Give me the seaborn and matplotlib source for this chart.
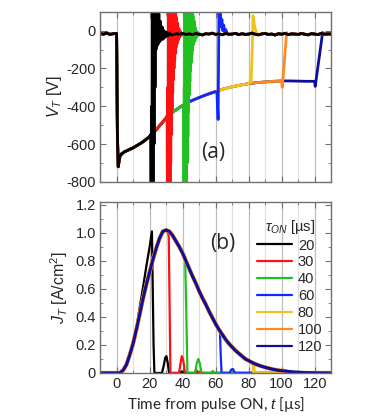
import numpy as np
import pandas as pd
import matplotlib
matplotlib.use("Agg")
import matplotlib.pyplot as plt
from matplotlib.ticker import MultipleLocator, FuncFormatter
from matplotlib.lines import Line2D
import seaborn as sns

# ---------------- data ----------------
taus = [20, 30, 40, 60, 80, 100, 120]
colors = ["#000000", "#ff1010", "#20c020", "#1028ff", "#f2c21c", "#ff8a1a", "#0e0e9a"]

# (a) terminal voltage, common envelope during the pulse
t_venv = [0.5, 1, 1.5, 2, 3, 5, 7.5, 10, 12.5, 15, 17.5, 20, 22.5, 25, 27.5, 30, 32.5, 35, 37.5, 40,
          45, 50, 55, 60, 65, 70, 75, 80, 85, 90, 95, 100, 105, 110, 115, 120, 125]
v_env = [-560, -720, -690, -665, -652, -640, -630, -620, -607, -594, -578, -560, -540, -514, -488, -462, -442, -425, -410, -396,
         -372, -354, -337, -322, -308, -297, -288, -280, -275, -271, -268, -266, -266, -267, -268, -268, -268]

# baseline outside the pulse (t = -10 ... 130, every 2 us)
t_vbase = list(range(-10, 131, 2))
v_base = [-14, -19, -12, -20, -16, -15, -21, -13, -18, -22,
          -14, -19, -17, -23, -12, -18, -20, -15, -21, -17,
          -13, -19, -22, -16, -18, -14, -20, -17, -21, -15,
          -19, -23, -16, -18, -13, -20, -17, -22, -15, -19,
          -18, -14, -21, -16, -20, -18, -13, -19, -22, -17,
          -15, -20, -18, -23, -16, -19, -14, -21, -17, -18,
          -20, -15, -19, -22, -16, -18, -21, -14, -19, -17, -18]

# switch-off transients of the voltage
v_off_t = {
    20: [20.6, 20.9, 21.2, 21.5, 21.8, 22.1, 22.4, 22.7, 23.0, 23.3, 23.6, 23.9, 24.2, 24.5, 24.8, 25.2,
         25.6, 26.0, 26.5, 27.0, 27.6, 28.2, 28.8, 29.5, 30.2, 31.0, 32.0, 33.0],
    30: [30.6, 30.8, 31.0, 31.2, 31.4, 31.6, 31.8, 32.0, 32.2, 32.4, 32.6, 32.8, 33.0, 33.2, 33.4, 33.6,
         33.8, 34.0, 34.2, 34.4, 34.6, 34.8, 35.0, 35.2, 35.4, 35.6, 35.8, 36.0, 36.3, 36.6, 37.0, 37.4,
         37.8, 38.2, 38.8, 39.4, 40.0],
    40: [40.6, 40.8, 41.0, 41.2, 41.4, 41.6, 41.8, 42.0, 42.2, 42.4, 42.6, 42.8, 43.0, 43.2, 43.4, 43.6,
         43.8, 44.0, 44.2, 44.4, 44.6, 44.8, 45.0, 45.2, 45.4, 45.6, 45.8, 46.0, 46.3, 46.6, 47.0, 47.4,
         47.8, 48.2, 48.8, 49.4, 50.0],
    60: [60.8, 61.5, 62.0, 62.4, 62.8, 63.3, 63.8, 64.3, 64.9, 65.5, 66.2, 67.0],
    80: [81.0, 81.5, 82.2, 82.6, 83.0, 83.5, 84.0, 84.7, 85.5],
    100: [100.3, 100.7, 103.0, 103.6],
    120: [120.3, 120.8, 124.8, 125.5],
}
v_off_v = {
    20: [-550, -900, -400, -900, 200, -900, 200, -600, 200, -300, 200, -100, 160, -80, 120, -70,
         90, -60, 50, -50, 20, -45, 0, -35, -8, -28, -12, -22],
    30: [-450, -900, -300, -900, 150, -900, 200, -850, 200, -800, 200, -700, 200, -550, 200, -420,
         200, -330, 200, -260, 180, -200, 150, -160, 130, -120, 100, -90, 70, -70, 40, -50,
         10, -35, -5, -25, -15],
    40: [-400, -900, -300, -900, 150, -900, 200, -850, 200, -800, 200, -700, 200, -560, 200, -430,
         200, -340, 200, -270, 190, -210, 160, -170, 140, -130, 110, -100, 80, -75, 50, -55,
         15, -38, -5, -25, -15],
    60: [-330, -470, 110, 40, 90, 20, 60, 0, 30, -10, 5, -15],
    80: [-268, -270, -100, 80, 60, 30, 10, -10, -15],
    100: [-300, -265, -10, -18],
    120: [-295, -265, -10, -18],
}

# (b) current density, common envelope
t_jenv = [0, 2, 4, 6, 8, 10, 12, 14, 16, 18, 20, 22, 24, 26, 28, 30, 32, 34, 36, 38,
          40, 42, 44, 46, 48, 50, 52, 54, 56, 58, 60, 62, 64, 66, 68, 70, 72, 74, 76, 78,
          80, 82, 84, 86, 88, 90, 92, 94, 96, 98, 100, 104, 108, 112, 116, 120, 124, 130]
j_env = [0, 0, 0.02, 0.06, 0.13, 0.21, 0.31, 0.42, 0.53, 0.63,
         0.72, 0.81, 0.89, 0.96, 1.01, 1.02, 1.01, 0.98, 0.94, 0.90,
         0.855, 0.80, 0.745, 0.69, 0.64, 0.585, 0.535, 0.49, 0.44, 0.395,
         0.35, 0.31, 0.275, 0.24, 0.21, 0.185, 0.16, 0.14, 0.12, 0.10,
         0.088, 0.075, 0.064, 0.055, 0.047, 0.04, 0.034, 0.028, 0.023, 0.019,
         0.016, 0.011, 0.007, 0.004, 0.002, 0.001, 0, 0]

# the 20 us pulse rises a bit faster than the others
t_j20 = [0, 2, 4, 6, 8, 10, 12, 14, 16, 18, 20]
j_20 = [0, 0, 0.02, 0.07, 0.14, 0.22, 0.32, 0.47, 0.61, 0.76, 0.9]

j_cut = {20: 20, 30: 30, 40: 40, 60: 62, 80: 82, 100: 102, 120: 124}
j_off_t = {
    20: [21.4, 21.9, 22.4, 22.9, 27.5, 28.5, 29.5, 30.2, 31.0, 31.8, 38.5, 39.5, 40.5],
    30: [31.2, 31.6, 32.1, 32.6, 37.8, 38.6, 39.5, 40.4, 41.3, 42.0, 47.2, 48.2, 49.2, 50.0],
    40: [41.5, 42.2, 42.9, 47.6, 48.6, 49.5, 50.4, 51.3, 52.0, 57.5, 58.3, 59.0],
    60: [62.6, 63.1, 63.6, 68.5, 69.5, 70.5, 71.5, 72.0],
    80: [82.8, 83.3],
    100: [102.5, 103.0],
    120: [124.5],
}
j_off_v = {
    20: [1.01, 0.6, 0.2, 0, 0, 0.05, 0.11, 0.12, 0.07, 0, 0, 0.012, 0],
    30: [1.0, 0.97, 0.5, 0, 0, 0.06, 0.12, 0.09, 0.01, 0, 0, 0.022, 0.01, 0],
    40: [0.83, 0.45, 0, 0, 0.07, 0.1, 0.07, 0.01, 0, 0, 0.015, 0],
    60: [0.3, 0.12, 0, 0, 0.025, 0.028, 0.005, 0],
    80: [0.07, 0],
    100: [0.013, 0],
    120: [0],
}

# line widths in panel (b): the wider yellow/orange traces peek out from under the navy one
j_widths = {20: 1.6, 30: 1.6, 40: 1.6, 60: 1.6, 80: 2.6, 100: 3.0, 120: 2.2}

# ---------------- assemble long tables ----------------
rows_v = []
rows_j = []
for tau in taus:
    t_off, v_off = v_off_t[tau], v_off_v[tau]
    tt = [t for t in t_vbase if t < 0] + [0]
    vv = [v for t, v in zip(t_vbase, v_base) if t < 0] + [-15]
    tt += [t for t in t_venv if t < t_off[0]] + t_off + [t for t in t_vbase if t > t_off[-1]]
    vv += [v for t, v in zip(t_venv, v_env) if t < t_off[0]] + v_off + \
          [v for t, v in zip(t_vbase, v_base) if t > t_off[-1]]
    rows_v += [(tau, t, v) for t, v in zip(tt, vv)]

    if tau == 20:
        tj, jj = list(t_j20), list(j_20)
    else:
        tj = [t for t in t_jenv if t <= j_cut[tau]]
        jj = [j for t, j in zip(t_jenv, j_env) if t <= j_cut[tau]]
    tj = [-10] + tj + j_off_t[tau] + [130]
    jj = [0] + jj + j_off_v[tau] + [0]
    rows_j += [(tau, t, j) for t, j in zip(tj, jj)]

df_v = pd.DataFrame(rows_v, columns=["tau", "t", "V"])
df_j = pd.DataFrame(rows_j, columns=["tau", "t", "J"])

# ---------------- styling ----------------
sns.set_style("ticks")
plt.rcParams["font.family"] = ["Liberation Sans", "DejaVu Sans"]
plt.rcParams["mathtext.fontset"] = "custom"
plt.rcParams["mathtext.rm"] = "Liberation Sans"
plt.rcParams["mathtext.it"] = "Liberation Sans:italic"
plt.rcParams["axes.unicode_minus"] = False

pal = dict(zip(taus, colors))
fig = plt.figure(figsize=(3.82, 4.2), dpi=100)
ax1 = fig.add_axes([0.262, 0.567, 0.605, 0.405])
ax2 = fig.add_axes([0.262, 0.112, 0.605, 0.407])

frame = "#707070"
for ax in (ax1, ax2):
    ax.set_xlim(-10, 130)
    ax.xaxis.set_major_locator(MultipleLocator(20))
    ax.xaxis.set_minor_locator(MultipleLocator(10))
    ax.grid(axis="x", which="major", color="#bdbdbd", lw=0.9, zorder=0)
    ax.grid(axis="x", which="minor", color="#e0e0e0", lw=0.9, zorder=0)
    ax.set_axisbelow(True)
    ax.tick_params(which="both", direction="in", top=True, right=True, color=frame,
                   labelsize=10.5, pad=3)
    ax.tick_params(which="major", length=4)
    ax.tick_params(which="minor", length=2)
    for s in ax.spines.values():
        s.set_color(frame)
        s.set_linewidth(1.0)

# (a)
sns.lineplot(data=df_v, x="t", y="V", hue="tau", hue_order=taus[::-1], palette=pal,
             units="tau", estimator=None, sort=False, lw=2.0, legend=False, ax=ax1)
ax1.set_ylim(-800, 100)
ax1.yaxis.set_major_locator(MultipleLocator(200))
ax1.yaxis.set_minor_locator(MultipleLocator(100))
ax1.tick_params(labelbottom=False)
ax1.set_xlabel("")
ax1.set_ylabel("$V_T$ [V]", fontsize=11.5, labelpad=2)
ax1.text(0.49, 0.17, "(a)", transform=ax1.transAxes, fontsize=15, ha="center", va="center",
         family=["Open Sans", "DejaVu Sans"])

# (b)
sns.lineplot(data=df_j, x="t", y="J", hue="tau", hue_order=taus, palette=pal,
             units="tau", estimator=None, sort=False, lw=1.6, legend=False, ax=ax2)
for line, tau in zip(ax2.lines, taus):
    line.set_linewidth(j_widths[tau])
ax2.set_ylim(0, 1.22)
ax2.yaxis.set_major_locator(MultipleLocator(0.2))
ax2.yaxis.set_minor_locator(MultipleLocator(0.1))
ax2.yaxis.set_major_formatter(FuncFormatter(lambda v, p: "0" if abs(v) < 1e-9 else f"{v:.1f}"))
ax2.set_ylabel("$J_T$ [A/cm$^2$]", fontsize=11.5, labelpad=4)
ax2.set_xlabel("Time from pulse ON, $t$ [µs]", fontsize=11, labelpad=3,
               family=["Lato", "DejaVu Sans"])
ax2.text(0.53, 0.76, "(b)", transform=ax2.transAxes, fontsize=15, ha="center", va="center",
         family=["Open Sans", "DejaVu Sans"])

handles = [Line2D([], [], color=c, lw=1.6) for c in colors]
ax2.legend(handles, [str(t) for t in taus], title=r"$\tau_{ON}$ [µs]", loc="upper right",
           bbox_to_anchor=(1.0, 0.96), frameon=False, fontsize=10.5, title_fontsize=10.5,
           handlelength=2.4, handletextpad=0.4, labelspacing=0.2, borderaxespad=0.2)

fig.savefig("out.png", dpi=100)
